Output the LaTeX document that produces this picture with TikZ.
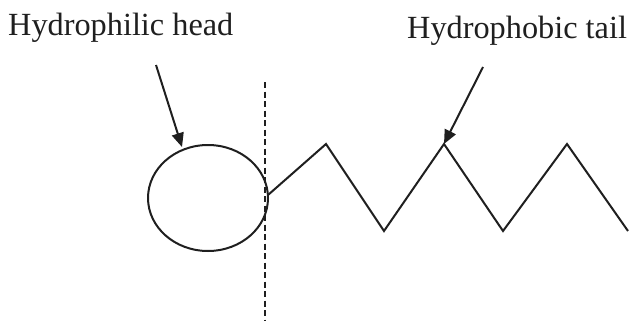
\documentclass[tikz,border=0pt]{standalone}
\usepackage{fontspec}
\setmainfont{Liberation Serif}
\usetikzlibrary{arrows.meta,shapes.geometric}
\begin{document}
\begin{tikzpicture}[x=1pt,y=-1pt,
  line/.style={line width=2pt,black!88},
  lbl/.style={font=\fontsize{32.3}{36}\selectfont,inner sep=0pt,anchor=base west,text=black!88},
  pointer/.style={line width=2pt,black!88,-{Triangle[length=14pt,width=12pt]}}]
\useasboundingbox (0,0) rectangle (634,321);
\node[lbl] (hl) at (8,36) {Hydrophilic head};
\node[lbl] (tl) at (407,39) {Hydrophobic tail};
\node[draw,line,ellipse,minimum width=120pt,minimum height=106pt,inner sep=0pt] (head) at (208,198) {};
\coordinate (d1) at (265,82);
\coordinate (d2) at (265,321);
\draw[line,dashed,dash pattern=on 6pt off 3.5pt] (d1) -- (d2);
\coordinate (z0) at (268,195);
\coordinate (p1) at (326,144);
\coordinate (v1) at (384,231);
\coordinate (p2) at (444,144);
\coordinate (v2) at (503,231);
\coordinate (p3) at (567,144);
\coordinate (z6) at (628,231);
\draw[line,line join=miter] (z0) -- (p1) -- (v1) -- (p2) -- (v2) -- (p3) -- (z6);
\coordinate (a1) at (156,65);
\coordinate (a1e) at (182,147);
\coordinate (a2s) at (483,67);
\draw[pointer] (a1) -- (a1e);
\draw[pointer] (a2s) -- (p2);
\end{tikzpicture}
\end{document}
